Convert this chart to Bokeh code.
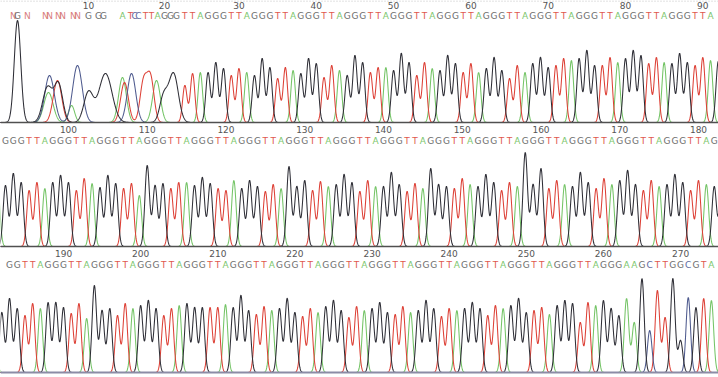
import numpy as np
from bokeh.plotting import figure
from bokeh.layouts import column
from bokeh.models import Range1d, Span, ColumnDataSource
from bokeh.core.properties import value
from bokeh.embed import file_html
from bokeh.resources import INLINE

# ---------------- data ----------------
# base calls, one string per displayed row
row1_calls = ("NGNNNNNNNGGG" "ATCCTTAGGG"
              "TTAGGG" "TTAGGG" "TTAGGG" "TTAGGG" "TTAGGG" "TTAGGG"
              "TTAGGG" "TTAGGG" "TTAGGG" "TTAGGG" "TTAGGG" "TTA")
row2_calls = ("GGG"
              "TTAGGG" "TTAGGG" "TTAGGG" "TTAGGG" "TTAGGG" "TTAGGG" "TTAGGG"
              "TTAGGG" "TTAGGG" "TTAGGG" "TTAGGG" "TTAGGG" "TTAGGG" "TTAGGG"
              "TTAG")
row3_calls = ("GG"
              "TTAGGG" "TTAGGG" "TTAGGG" "TTAGGG" "TTAGGG" "TTAGGG" "TTAGGG"
              "TTAGGG" "TTAGGG" "TTAGGG" "TTAGGG" "TTAGGG" "TTAGGG"
              "AAGCTTGGCGTA")

# positions (in base units) of the first 22, irregularly spaced, base calls
early_call_pos = [0.83, 1.35, 2.64, 4.97, 5.49, 6.65, 7.17, 8.59, 9.11, 10.53, 11.83,
                  12.47, 14.93, 15.97, 16.49, 17.0, 17.91, 18.68, 19.46, 20.37, 21.14, 21.92]

# peaks of the noisy start of the read (position, height, channel, width)
early_pk_pos = [1.35, 5.23, 5.36, 5.49, 6.52, 6.65, 8.34, 9.11, 10.53, 12.73,
                14.93, 15.19, 16.10, 17.65, 18.56, 19.33, 20.24, 21.53]
early_pk_h = [102, 35, 30, 47, 42, 38, 17, 57, 30, 49, 45, 40, 49, 40, 44, 42, 25, 49]
early_pk_ch = "GGACTGACGGATCTTAGG"
early_pk_w = [0.42, 0.62, 0.6, 0.62, 0.55, 0.55, 0.4, 0.62, 0.6, 0.85,
              0.5, 0.5, 0.55, 0.45, 0.45, 0.5, 0.5, 0.62]

# peak heights of bases 23..91 (row 1), 92..182 (row 2), 183..274 (row 3)
h_row1 = [37, 49, 50, 50, 60, 54, 47, 54, 50, 47, 64, 55, 44, 55, 52, 49, 64, 59,
          45, 57, 52, 47, 67, 60, 50, 55, 55, 52, 69, 60, 47, 60, 54, 52, 67, 59,
          50, 59, 50, 54, 65, 52, 44, 57, 50, 59, 65, 55, 57, 64, 62, 64, 72, 57,
          57, 65, 60, 64, 72, 67, 59, 65, 60, 59, 69, 60, 57, 65, 62]
h_row2 = [61, 73, 64,
          56, 64, 58, 64, 71, 64, 56, 68, 63, 59, 71, 63, 58, 63, 51, 81, 61, 63,
          58, 64, 64, 61, 69, 63, 58, 56, 66, 58, 66, 60, 55, 62, 58, 80, 60, 66,
          56, 65, 60, 62, 72, 64, 55, 66, 60, 60, 74, 62, 55, 63, 58, 78, 62, 60,
          58, 68, 62, 60, 72, 64, 56, 64, 60, 94, 62, 78, 58, 66, 62, 60, 74, 64,
          58, 68, 62, 66, 76, 62, 56, 66, 60, 62, 72, 64, 56, 66, 62, 60]
h_row3 = [74, 64,
          57, 69, 64, 70, 70, 65, 59, 69, 54, 87, 62, 64, 57, 69, 64, 67, 72, 64,
          57, 64, 67, 69, 65, 65, 65, 65, 68, 65, 77, 62, 58, 66, 62, 64, 74, 60,
          56, 64, 60, 66, 72, 62, 55, 66, 62, 64, 70, 60, 58, 66, 60, 62, 72, 64,
          56, 64, 62, 64, 70, 64, 57, 67, 64, 67, 74, 60, 62, 65, 58, 67, 72, 69,
          50, 70, 67, 72, 64, 57,
          74, 50, 94, 42, 82, 55, 94, 32, 75, 65, 74, 72]

tick_labels = list(range(10, 280, 10))

# ---------------- styles ----------------
trace_color = {"G": "#2e2e36", "A": "#74c466", "T": "#dd4036", "C": "#4e5a8e"}
call_color = {"G": "#6e6e6e", "A": "#7cc66c", "T": "#e0584e", "C": "#5e6a9e", "N": "#d98080"}
FONT = value("DejaVu Sans")

calls = row1_calls + row2_calls + row3_calls
heights = h_row1 + h_row2 + h_row3
assert len(calls) == 274, len(calls)
assert len(heights) == 274 - 22, len(heights)

call_pos = list(early_call_pos) + [float(b) for b in range(23, len(calls) + 1)]

pk_pos = list(early_pk_pos) + [float(b) for b in range(23, len(calls) + 1)]
pk_h = list(early_pk_h) + list(heights)
pk_ch = list(early_pk_ch) + [calls[b - 1] for b in range(23, len(calls) + 1)]
pk_w = list(early_pk_w) + [0.29] * len(heights)
pk_pos = np.array(pk_pos); pk_h = np.array(pk_h, float); pk_w = np.array(pk_w)
pk_ch = np.array(pk_ch)

rows = [
    dict(x0=-0.85, x1=92.03, height=124, y0=-2, y1=122, num_y=117, call_y=107,
         base_color="#505050", base_w=1.5, labels=(10, 90), top_line=True),
    dict(x0=91.37, x1=182.54, height=124, y0=-2, y1=122, num_y=117, call_y=106,
         base_color="#505050", base_w=1.5, labels=(100, 180), top_line=False),
    dict(x0=181.83, x1=274.92, height=129, y0=-5, y1=124, num_y=119, call_y=108,
         base_color="#8c8ca6", base_w=2, labels=(190, 270), top_line=False),
]

figs = []
for r in rows:
    p = figure(width=718, height=r["height"], x_range=Range1d(r["x0"], r["x1"]),
               y_range=Range1d(r["y0"], r["y1"]), output_backend="svg",
               toolbar_location=None, x_axis_location=None, y_axis_location=None,
               min_border=0)
    p.grid.visible = False
    p.outline_line_color = None
    p.background_fill_color = "white"
    p.border_fill_color = "white"

    if r["top_line"]:
        p.add_layout(Span(location=r["y1"] - 0.5, dimension="width",
                          line_color="#b0b0b0", line_width=1, line_dash="1 2"))

    xs = np.linspace(r["x0"] - 0.5, r["x1"] + 0.5, 2600)
    for ch in ["A", "T", "C", "G"]:
        m = (pk_ch == ch) & (pk_pos > r["x0"] - 3) & (pk_pos < r["x1"] + 3)
        ys = np.zeros_like(xs)
        for pp, hh, ww in zip(pk_pos[m], pk_h[m], pk_w[m]):
            ys += hh * np.exp(-((xs - pp) ** 2) / (2 * ww ** 2))
        p.line(xs, ys, line_color=trace_color[ch], line_width=1.05)

    p.add_layout(Span(location=0, dimension="width", line_color=r["base_color"],
                      line_width=r["base_w"]))

    # base calls (only those that fit fully inside the row)
    px_per_base = 718.0 / (r["x1"] - r["x0"])
    margin = 4.0 / px_per_base
    idx = [i for i, x in enumerate(call_pos) if r["x0"] + margin < x < r["x1"] - margin]
    src = ColumnDataSource(dict(
        x=[call_pos[i] for i in idx],
        y=[r["call_y"]] * len(idx),
        t=[calls[i] for i in idx],
        c=[call_color[calls[i]] for i in idx]))
    p.text(x="x", y="y", text="t", text_color="c", source=src, text_align="center",
           text_baseline="middle", text_font=FONT, text_font_size=value("9px"))

    # position numbers
    lo, hi = r["labels"]
    labs = [t for t in tick_labels if lo <= t <= hi]
    lsrc = ColumnDataSource(dict(x=[call_pos[t - 1] for t in labs],
                                 y=[r["num_y"]] * len(labs),
                                 t=[str(t) for t in labs]))
    p.text(x="x", y="y", text="t", source=lsrc, text_color="#555555",
           text_align="center", text_baseline="middle", text_font=FONT,
           text_font_size=value("9px"))
    figs.append(p)

layout = column(*figs, spacing=0)
open("out.html", "w").write(file_html(layout, INLINE))
